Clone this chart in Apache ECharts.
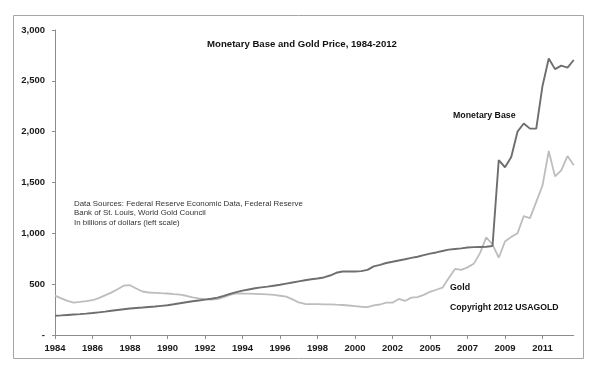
<!DOCTYPE html>
<html>
<head>
<meta charset="utf-8">
<script src="https://cdn.jsdelivr.net/npm/echarts@6/dist/echarts.min.js"></script>
<style>
html,body{margin:0;padding:0;background:#fff;}
#chart{width:600px;height:372px;}
</style>
</head>
<body>
<div id="chart"></div>
<script>
// Tick labels shown on the x axis (each covers 6 sample points)
const tickLabels = ['1984','1986','1988','1990','1992','1994','1996','1998','2000','2002','2005','2007','2009','2011'];
const pointsPerTick = 6;

// Categories built from tick labels
const categories = [];
tickLabels.forEach(function (t) {
  for (let k = 0; k < pointsPerTick; k++) categories.push(k === 0 ? t : t + '.' + k);
});

// Monetary Base (billions of dollars)
const monetaryBase = [
  190,193,197,201,205,210,
  216,223,230,238,246,253,
  260,265,270,276,281,287,
  293,302,312,322,332,340,
  348,356,368,385,405,422,
  436,448,460,468,476,485,
  494,505,516,527,538,548,
  556,566,585,612,625,626,
  625,628,640,675,690,708,
  720,733,745,758,770,785,
  800,812,826,840,846,852,
  860,864,866,868,875,1720,
  1650,1750,2000,2080,2030,2030,
  2450,2720,2615,2650,2630,2705
];

// Gold price
const gold = [
  387,361,335,318,325,333,
  342,363,390,417,450,485,
  490,458,428,418,415,411,
  408,402,397,386,370,360,
  352,347,352,372,395,410,
  408,407,405,402,399,395,
  386,377,350,320,305,303,
  303,302,302,298,295,290,
  285,278,275,292,300,318,
  318,355,335,368,372,395,
  425,445,465,560,650,640,
  665,700,805,960,890,760,
  920,965,1000,1170,1150,1310,
  1470,1810,1560,1620,1760,1670
];

const yTicks = [0,500,1000,1500,2000,2500,3000];

const chart = echarts.init(document.getElementById('chart'), null, {renderer:'canvas'});
const boldFont = 'Liberation Sans, Arial, sans-serif';

chart.setOption({
  animation: false,
  backgroundColor: '#ffffff',
  grid: { left: 55, top: 30, width: 518.75, height: 305, containLabel: false },
  xAxis: {
    type: 'category',
    data: categories,
    boundaryGap: false,
    axisLine: { show: true, lineStyle: { color: '#8c8c8c', width: 1 } },
    axisTick: { show: true, interval: pointsPerTick - 1, length: 4, lineStyle: { color: '#8c8c8c' } },
    axisLabel: {
      interval: pointsPerTick - 1,
      margin: 8,
      color: '#1a1a1a',
      fontFamily: boldFont,
      fontWeight: 'bold',
      fontSize: 9.5,
      formatter: function (v) { return v.indexOf('.') >= 0 ? '' : v; }
    },
    splitLine: { show: false }
  },
  yAxis: {
    type: 'value',
    min: yTicks[0],
    max: yTicks[yTicks.length - 1],
    interval: 500,
    axisLine: { show: true, lineStyle: { color: '#8c8c8c', width: 1 } },
    axisTick: { show: true, length: 3, lineStyle: { color: '#8c8c8c' } },
    axisLabel: {
      margin: 10,
      color: '#1a1a1a',
      fontFamily: boldFont,
      fontWeight: 'bold',
      fontSize: 9.5,
      formatter: function (v) { return v === 0 ? '-' : v.toLocaleString('en-US'); }
    },
    splitLine: { show: false }
  },
  series: [
    {
      name: 'Gold',
      type: 'line',
      data: gold,
      symbol: 'none',
      lineStyle: { color: '#bdbdbd', width: 1.8 },
      z: 2
    },
    {
      name: 'Monetary Base',
      type: 'line',
      data: monetaryBase,
      symbol: 'none',
      lineStyle: { color: '#6e6e6e', width: 1.9 },
      z: 3
    }
  ],
  graphic: [
    { type: 'rect', shape: { x: 13.5, y: 15.5, width: 570, height: 343 }, style: { fill: 'none', stroke: '#a6a6a6', lineWidth: 1 }, z: -1 },
    { type: 'text', x: 302, y: 44, style: { text: 'Monetary Base and Gold Price, 1984-2012', font: 'bold 9.6px ' + boldFont, fill: '#111', textAlign: 'center', textVerticalAlign: 'middle' } },
    { type: 'text', x: 453, y: 116, style: { text: 'Monetary Base', font: 'bold 8.8px ' + boldFont, fill: '#111', textAlign: 'left', textVerticalAlign: 'middle' } },
    { type: 'text', x: 450, y: 287.5, style: { text: 'Gold', font: 'bold 8.8px ' + boldFont, fill: '#111', textAlign: 'left', textVerticalAlign: 'middle' } },
    { type: 'text', x: 450, y: 308, style: { text: 'Copyright 2012 USAGOLD', font: 'bold 8.7px ' + boldFont, fill: '#111', textAlign: 'left', textVerticalAlign: 'middle' } },
    { type: 'text', x: 74, y: 204, style: { text: 'Data Sources: Federal Reserve Economic Data, Federal Reserve', font: '7.9px ' + boldFont, fill: '#333', textAlign: 'left', textVerticalAlign: 'middle' } },
    { type: 'text', x: 74, y: 213.3, style: { text: 'Bank of St. Louis, World Gold Council', font: '7.9px ' + boldFont, fill: '#333', textAlign: 'left', textVerticalAlign: 'middle' } },
    { type: 'text', x: 74, y: 222.6, style: { text: 'In billions of dollars (left scale)', font: '7.9px ' + boldFont, fill: '#333', textAlign: 'left', textVerticalAlign: 'middle' } }
  ]
});
</script>
</body>
</html>
